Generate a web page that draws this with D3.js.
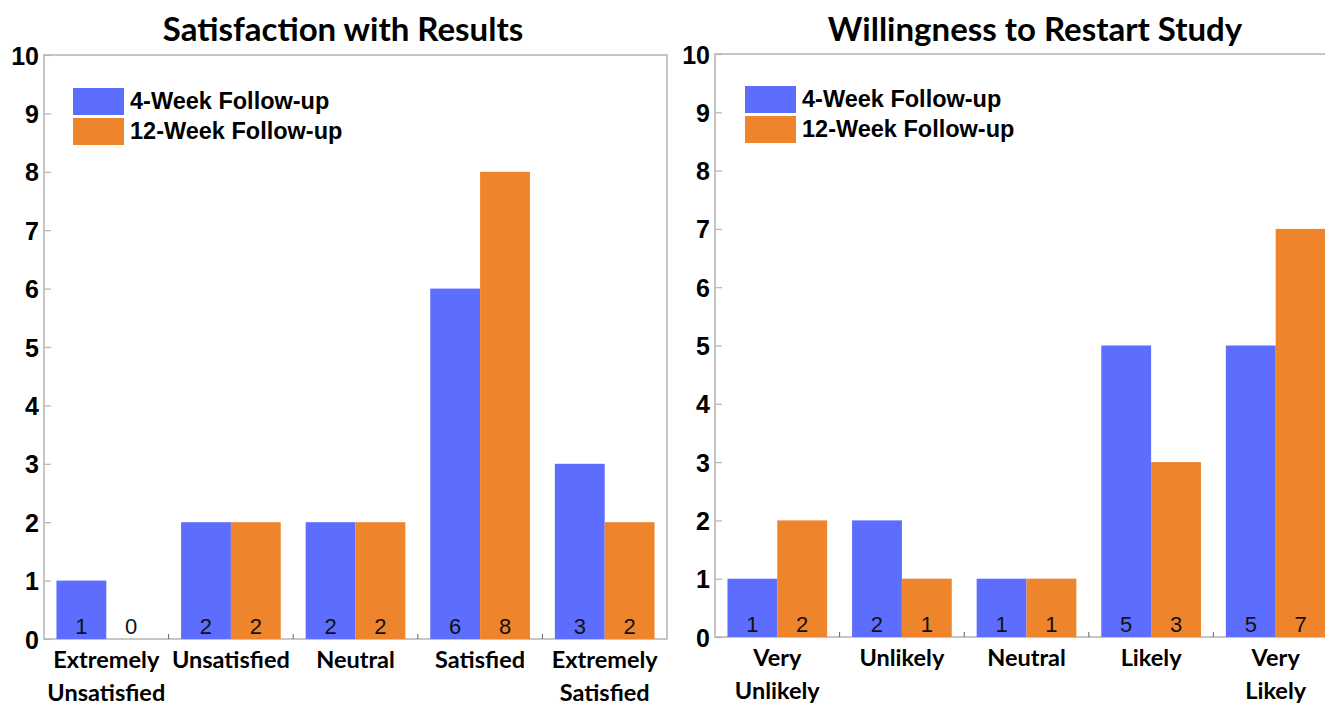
<!DOCTYPE html>
<html>
<head>
<meta charset="utf-8">
<script src="https://cdn.jsdelivr.net/npm/d3@7"></script>
<style>
  html, body { margin: 0; padding: 0; background: #fff; }
  svg { display: block; }
</style>
</head>
<body>
<svg id="chart" width="1325" height="705"></svg>
<script>
// ---- data ----
const seriesNames = ["4-Week Follow-up", "12-Week Follow-up"];
const yTicks = [0, 1, 2, 3, 4, 5, 6, 7, 8, 9, 10];

const satTitle = "Satisfaction with Results";
const satCategories = [["Extremely", "Unsatisfied"], ["Unsatisfied"], ["Neutral"], ["Satisfied"], ["Extremely", "Satisfied"]];
const sat4Week = [1, 2, 2, 6, 3];
const sat12Week = [0, 2, 2, 8, 2];

const willTitle = "Willingness to Restart Study";
const willCategories = [["Very", "Unlikely"], ["Unlikely"], ["Neutral"], ["Likely"], ["Very", "Likely"]];
const will4Week = [1, 2, 1, 5, 5];
const will12Week = [2, 1, 1, 3, 7];

// ---- styling ----
const colors = ["#5d6dfd", "#ee842b"];
const axisGray = "#b4b4b4";
const labelFont = "Lato, 'Open Sans', sans-serif";
const numFont = "'Liberation Sans', Arial, sans-serif";

const svg = d3.select("#chart");

function drawPanel(opts) {
  const { left, right, top, bottom, title, titleX, categories, values, legendX, legendY } = opts;
  const g = svg.append("g");

  const x0 = d3.scaleBand()
    .domain(d3.range(categories.length))
    .range([left, right])
    .paddingInner(0.2)
    .paddingOuter(0.1);
  const x1 = d3.scaleBand()
    .domain(d3.range(values.length))
    .range([0, x0.bandwidth()]);
  const y = d3.scaleLinear().domain([0, 10]).range([bottom, top]);

  // frame
  g.append("rect")
    .attr("x", left).attr("y", top)
    .attr("width", right - left).attr("height", bottom - top)
    .attr("fill", "none").attr("stroke", axisGray).attr("stroke-width", 1.5);

  // bars with their counts near the base
  values.forEach((series, si) => {
    g.selectAll(null)
      .data(series)
      .join("rect")
      .attr("x", (d, i) => x0(i) + x1(si))
      .attr("y", d => y(d))
      .attr("width", x1.bandwidth())
      .attr("height", d => y(0) - y(d))
      .attr("fill", colors[si]);

    g.selectAll(null)
      .data(series)
      .join("text")
      .attr("x", (d, i) => x0(i) + x1(si) + x1.bandwidth() / 2)
      .attr("y", y(0) - 5)
      .attr("text-anchor", "middle")
      .attr("font-family", numFont)
      .attr("font-size", 22)
      .attr("fill", "#111")
      .text(d => d);
  });

  // y axis: inward ticks, bold labels
  const yAxis = d3.axisLeft(y).tickValues(yTicks).tickSize(-7).tickPadding(5).tickFormat(d3.format("d"));
  const ya = g.append("g").attr("transform", `translate(${left},0)`).call(yAxis);
  ya.select(".domain").remove();
  ya.selectAll(".tick line").attr("stroke", axisGray).attr("stroke-width", 1.2);
  ya.selectAll(".tick text")
    .attr("font-family", numFont)
    .attr("font-weight", "bold")
    .attr("font-size", 25)
    .attr("fill", "#000")
    .attr("dy", "0.36em");

  // x axis: small inward ticks between category groups
  const bounds = d3.range(1, categories.length).map(i => x0(i) - x0.step() * x0.paddingInner() / 2);
  g.selectAll(null)
    .data(bounds)
    .join("line")
    .attr("x1", d => d).attr("x2", d => d)
    .attr("y1", bottom).attr("y2", bottom - 5)
    .attr("stroke", "#666").attr("stroke-width", 1);

  // category labels
  categories.forEach((lines, i) => {
    const cx = x0(i) + x0.bandwidth() / 2;
    const t = g.append("text")
      .attr("x", cx)
      .attr("y", bottom + 29)
      .attr("text-anchor", "middle")
      .attr("font-family", labelFont)
      .attr("font-weight", "bold")
      .attr("font-size", 23.5)
      .attr("fill", "#000");
    lines.forEach((ln, k) => {
      t.append("tspan").attr("x", cx).attr("dy", k === 0 ? 0 : 33).text(ln);
    });
  });

  // title
  g.append("text")
    .attr("x", titleX)
    .attr("y", 41)
    .attr("text-anchor", "middle")
    .attr("font-family", labelFont)
    .attr("font-weight", "bold")
    .attr("font-size", 33)
    .attr("fill", "#000")
    .text(title);

  // legend
  seriesNames.forEach((name, si) => {
    g.append("rect")
      .attr("x", legendX).attr("y", legendY + si * 30)
      .attr("width", 51).attr("height", 27)
      .attr("fill", colors[si]);
    g.append("text")
      .attr("x", legendX + 57).attr("y", legendY + si * 30 + 21)
      .attr("font-family", numFont)
      .attr("font-weight", "bold")
      .attr("font-size", 23.5)
      .attr("fill", "#000")
      .text(name);
  });
}

drawPanel({
  left: 44, right: 667, top: 55, bottom: 639,
  title: satTitle, titleX: 343,
  categories: satCategories, values: [sat4Week, sat12Week],
  legendX: 73, legendY: 88
});

drawPanel({
  left: 715, right: 1338, top: 54, bottom: 637,
  title: willTitle, titleX: 1035,
  categories: willCategories, values: [will4Week, will12Week],
  legendX: 745, legendY: 86
});
</script>
</body>
</html>
